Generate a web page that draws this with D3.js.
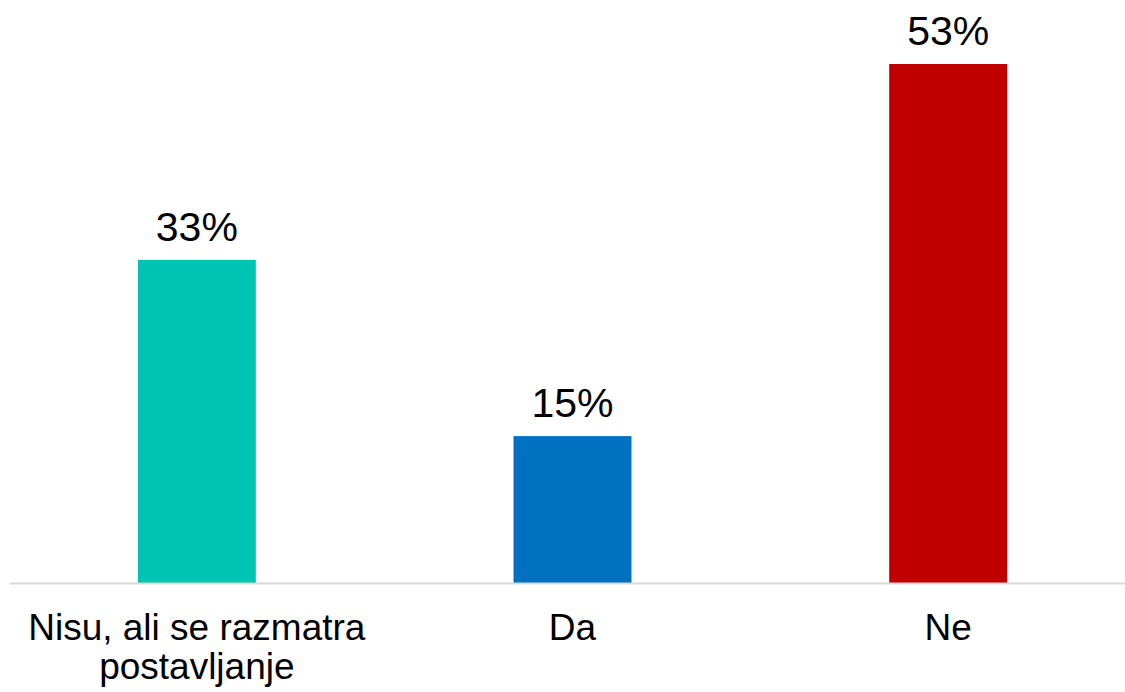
<!DOCTYPE html>
<html>
<head>
<meta charset="utf-8">
<script src="https://cdn.jsdelivr.net/npm/d3@7"></script>
<style>
  html, body { margin: 0; padding: 0; background: #fff; }
  svg { display: block; font-family: "Liberation Sans", Arial, sans-serif; }
</style>
</head>
<body>
<svg id="chart" width="1125" height="692"></svg>
<script>
// Category labels (each entry is a list of lines)
const categories = ["Nisu, ali se razmatra postavljanje", "Da", "Ne"];
const categoryLines = [["Nisu, ali se razmatra", "postavljanje"], ["Da"], ["Ne"]];
// Share of respondents, percent
const values = [33, 15, 53];
const colors = ["#00c4b3", "#0070c0", "#c00000"];

const svg = d3.select("#chart");
const W = 1125, H = 692;
const baseY = 583;

const x = d3.scaleBand()
  .domain(categories)
  .range([9, 1136])
  .paddingInner(0.686)
  .paddingOuter(0.343);

const y = d3.scaleLinear()
  .domain([0, 53])
  .range([baseY, baseY - 519]);

// Bars
svg.append("g").selectAll("rect")
  .data(values)
  .join("rect")
  .attr("x", (d, i) => x(categories[i]))
  .attr("y", d => y(d))
  .attr("width", x.bandwidth())
  .attr("height", d => y(0) - y(d))
  .attr("fill", (d, i) => colors[i]);

// Baseline
svg.append("line")
  .attr("x1", 10).attr("x2", W)
  .attr("y1", baseY + 0.5).attr("y2", baseY + 0.5)
  .attr("stroke", "#d9d9d9")
  .attr("stroke-width", 2);

// Value labels
svg.append("g").selectAll("text")
  .data(values)
  .join("text")
  .attr("x", (d, i) => x(categories[i]) + x.bandwidth() / 2)
  .attr("y", d => y(d) - 19)
  .attr("text-anchor", "middle")
  .attr("font-size", 41)
  .attr("fill", "#000")
  .text(d => d + "%");

// Category labels
const cat = svg.append("g").selectAll("text")
  .data(categories)
  .join("text")
  .attr("x", d => x(d) + x.bandwidth() / 2)
  .attr("y", 640)
  .attr("text-anchor", "middle")
  .attr("font-size", 37)
  .attr("fill", "#000");
cat.each(function (d, i) {
  d3.select(this).selectAll("tspan")
    .data(categoryLines[i])
    .join("tspan")
    .attr("x", x(d) + x.bandwidth() / 2)
    .attr("dy", (l, j) => j === 0 ? 0 : 39)
    .text(l => l);
});
</script>
</body>
</html>
